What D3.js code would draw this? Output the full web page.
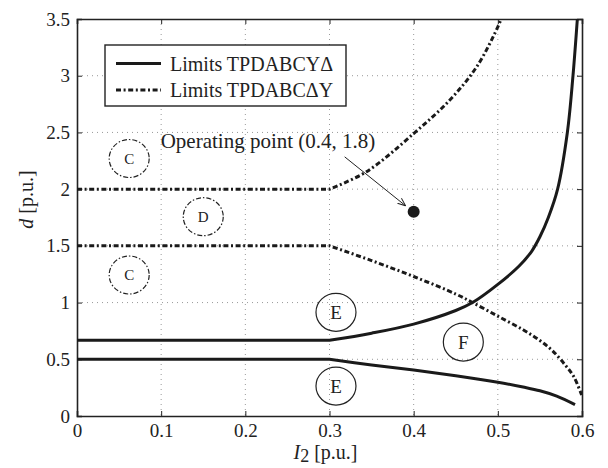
<html>
<head>
<script src="https://d3js.org/d3.v7.min.js"></script>
<style>
body { margin: 0; background: #fff; }
svg text { font-family: "Liberation Serif", "Times New Roman", Times, "Noto Serif", "DejaVu Serif", serif; fill: #222; }
</style>
</head>
<body>
<div id="chart"></div>
<script>
// values (I2 in p.u., d in p.u.)
const ydSolidUpper = [[0, 0.667], [0.3, 0.667], [0.35, 0.73], [0.4, 0.81], [0.45, 0.93], [0.47, 1.0], [0.5, 1.16], [0.525, 1.32], [0.54, 1.45], [0.55, 1.58], [0.56, 1.75], [0.571, 2.0], [0.5826, 2.5], [0.5893, 3.0], [0.5945, 3.5], [0.597, 3.75]];
const ydSolidLower = [[0, 0.5], [0.3, 0.5], [0.35, 0.45], [0.4, 0.405], [0.45, 0.355], [0.5, 0.298], [0.53, 0.255], [0.55, 0.222], [0.57, 0.175], [0.5917, 0.1]];
const dyDashUpper = [[0, 2.0], [0.3, 2.0], [0.344, 2.154], [0.4, 2.49], [0.443, 2.786], [0.475, 3.08], [0.5, 3.43], [0.505, 3.52]];
const dyDashLower = [[0, 1.5], [0.3, 1.5], [0.35, 1.37], [0.4, 1.23], [0.45, 1.075], [0.47, 1.0], [0.5, 0.88], [0.53, 0.76], [0.55, 0.665], [0.565, 0.575], [0.58, 0.45], [0.59, 0.35], [0.5996, 0.185]];
const opPoint = [0.4, 1.8];
const regions = [
  { label: "C", x: 0.062, y: 2.27, dashed: true },
  { label: "D", x: 0.150, y: 1.757, dashed: true },
  { label: "C", x: 0.062, y: 1.243, dashed: true },
  { label: "E", x: 0.3077, y: 0.914, dashed: false },
  { label: "E", x: 0.3077, y: 0.264, dashed: false },
  { label: "F", x: 0.459, y: 0.652, dashed: false }
];
const xTicks = [0, 0.1, 0.2, 0.3, 0.4, 0.5, 0.6];
const yTicks = [0, 0.5, 1, 1.5, 2, 2.5, 3, 3.5];
const legendLabels = ["Limits TPDABCY\u0394", "Limits TPDABC\u0394Y"];

const W = 608, H = 468;
const margin = { top: 19, right: 26, bottom: 52, left: 77 };
const width = W - margin.left - margin.right;
const height = H - margin.top - margin.bottom;
const dashDot = "5,2.6,2,2.6";
const serif = "'Liberation Serif', 'Times New Roman', Times, serif";

const svg = d3.select("#chart").append("svg").attr("width", W).attr("height", H);
const chart = svg.append("g").attr("transform", `translate(${margin.left},${margin.top})`);

const xScale = d3.scaleLinear().domain([0, 0.6]).range([0, width]);
const yScale = d3.scaleLinear().domain([0, 3.5]).range([height, 0]);

// grid
chart.append("g").selectAll("line").data(xTicks.slice(1, -1)).join("line")
  .attr("x1", d => xScale(d)).attr("x2", d => xScale(d))
  .attr("y1", 0).attr("y2", height)
  .attr("stroke", "#999").attr("stroke-width", 1).attr("stroke-dasharray", "1,4");
chart.append("g").selectAll("line").data(yTicks.slice(1, -1)).join("line")
  .attr("y1", d => yScale(d)).attr("y2", d => yScale(d))
  .attr("x1", 0).attr("x2", width)
  .attr("stroke", "#999").attr("stroke-width", 1).attr("stroke-dasharray", "1,4");

// axes (inward ticks on all four sides)
const fmt = d => d3.format("~g")(d);
chart.append("g").attr("transform", `translate(0,${height})`)
  .call(d3.axisBottom(xScale).tickValues(xTicks).tickFormat(fmt).tickSize(-5).tickPadding(8));
chart.append("g")
  .call(d3.axisLeft(yScale).tickValues(yTicks).tickFormat(fmt).tickSize(-5).tickPadding(7));
chart.append("g").call(d3.axisTop(xScale).tickValues(xTicks).tickFormat("").tickSize(-5));
chart.append("g").attr("transform", `translate(${width},0)`)
  .call(d3.axisRight(yScale).tickValues(yTicks).tickFormat("").tickSize(-5));
chart.selectAll("g").attr("font-family", serif);
chart.selectAll(".domain").attr("stroke", "#222").attr("stroke-width", 1.6);
chart.selectAll(".tick line").attr("stroke", "#222");
chart.selectAll(".tick text").style("font-size", "19px").attr("fill", "#222");

// curves: flat part straight, kink at 0.3, then smooth
const smooth = d3.line().x(d => xScale(d[0])).y(d => yScale(d[1])).curve(d3.curveCatmullRom.alpha(0.5));
const curvePath = data => `M${xScale(data[0][0])},${yScale(data[0][1])}L` + smooth(data.slice(1)).slice(1);
const clip = svg.append("defs").append("clipPath").attr("id", "plotclip");
clip.append("rect").attr("width", width).attr("height", height);
const curves = chart.append("g").attr("clip-path", "url(#plotclip)");
[ydSolidUpper, ydSolidLower].forEach(data => {
  curves.append("path").attr("d", curvePath(data))
    .attr("fill", "none").attr("stroke", "#1a1a1a").attr("stroke-width", 3);
});
[dyDashUpper, dyDashLower].forEach(data => {
  curves.append("path").attr("d", curvePath(data))
    .attr("fill", "none").attr("stroke", "#1a1a1a").attr("stroke-width", 3)
    .attr("stroke-dasharray", dashDot);
});

// region markers
const reg = chart.append("g").selectAll("g").data(regions).join("g")
  .attr("transform", d => `translate(${xScale(d.x)},${yScale(d.y)})`);
reg.append("ellipse").attr("rx", 20).attr("ry", 19)
  .attr("fill", "none").attr("stroke", "#222").attr("stroke-width", 1.2)
  .attr("stroke-dasharray", d => d.dashed ? "5,2,1.5,2" : null);
reg.append("text").attr("text-anchor", "middle").attr("dy", "0.35em")
  .style("font-size", d => d.dashed ? "15px" : "19px").text(d => d.label);

// operating point
const px = xScale(opPoint[0]), py = yScale(opPoint[1]);
svg.append("defs").append("marker").attr("id", "arrow")
  .attr("viewBox", "0 0 10 10").attr("refX", 10).attr("refY", 5)
  .attr("markerWidth", 8).attr("markerHeight", 8).attr("orient", "auto")
  .append("path").attr("d", "M0,1 L10,5 L0,9").attr("fill", "none").attr("stroke", "#222").attr("stroke-width", 1.2);
chart.append("line")
  .attr("x1", px - 69).attr("y1", py - 55)
  .attr("x2", px - 8).attr("y2", py - 6)
  .attr("stroke", "#222").attr("stroke-width", 1).attr("marker-end", "url(#arrow)");
chart.append("circle").attr("cx", px).attr("cy", py).attr("r", 6).attr("fill", "#1a1a1a");
chart.append("text").attr("x", px - 253).attr("y", py - 64)
  .style("font-size", "21px").text(`Operating point (${opPoint[0]}, ${opPoint[1]})`);

// legend
const lg = svg.append("g").attr("transform", "translate(105,45)");
lg.append("rect").attr("width", 241).attr("height", 61)
  .attr("fill", "#fff").attr("stroke", "#222").attr("stroke-width", 1.4);
legendLabels.forEach((lab, i) => {
  const y = 18.5 + i * 26.5;
  lg.append("line").attr("x1", 11).attr("x2", 56).attr("y1", y).attr("y2", y)
    .attr("stroke", "#1a1a1a").attr("stroke-width", 3)
    .attr("stroke-dasharray", i === 1 ? dashDot : null);
  lg.append("text").attr("x", 65).attr("y", y).attr("dy", "0.35em")
    .style("font-size", "20px").text(lab);
});

// axis labels
const xl = svg.append("text").attr("x", margin.left + width / 2 - 4).attr("y", 459)
  .attr("text-anchor", "middle").style("font-size", "20px");
xl.append("tspan").style("font-style", "italic").text("I");
xl.append("tspan").attr("dy", 3).style("font-size", "18px").text("2");
xl.append("tspan").attr("dy", -3).text(" [p.u.]");

const yl = svg.append("text").attr("transform", `translate(33,${margin.top + height / 2 - 18}) rotate(-90)`)
  .attr("text-anchor", "middle").style("font-size", "20px");
yl.append("tspan").style("font-style", "italic").text("d");
yl.append("tspan").text(" [p.u.]");
</script>
</body>
</html>
